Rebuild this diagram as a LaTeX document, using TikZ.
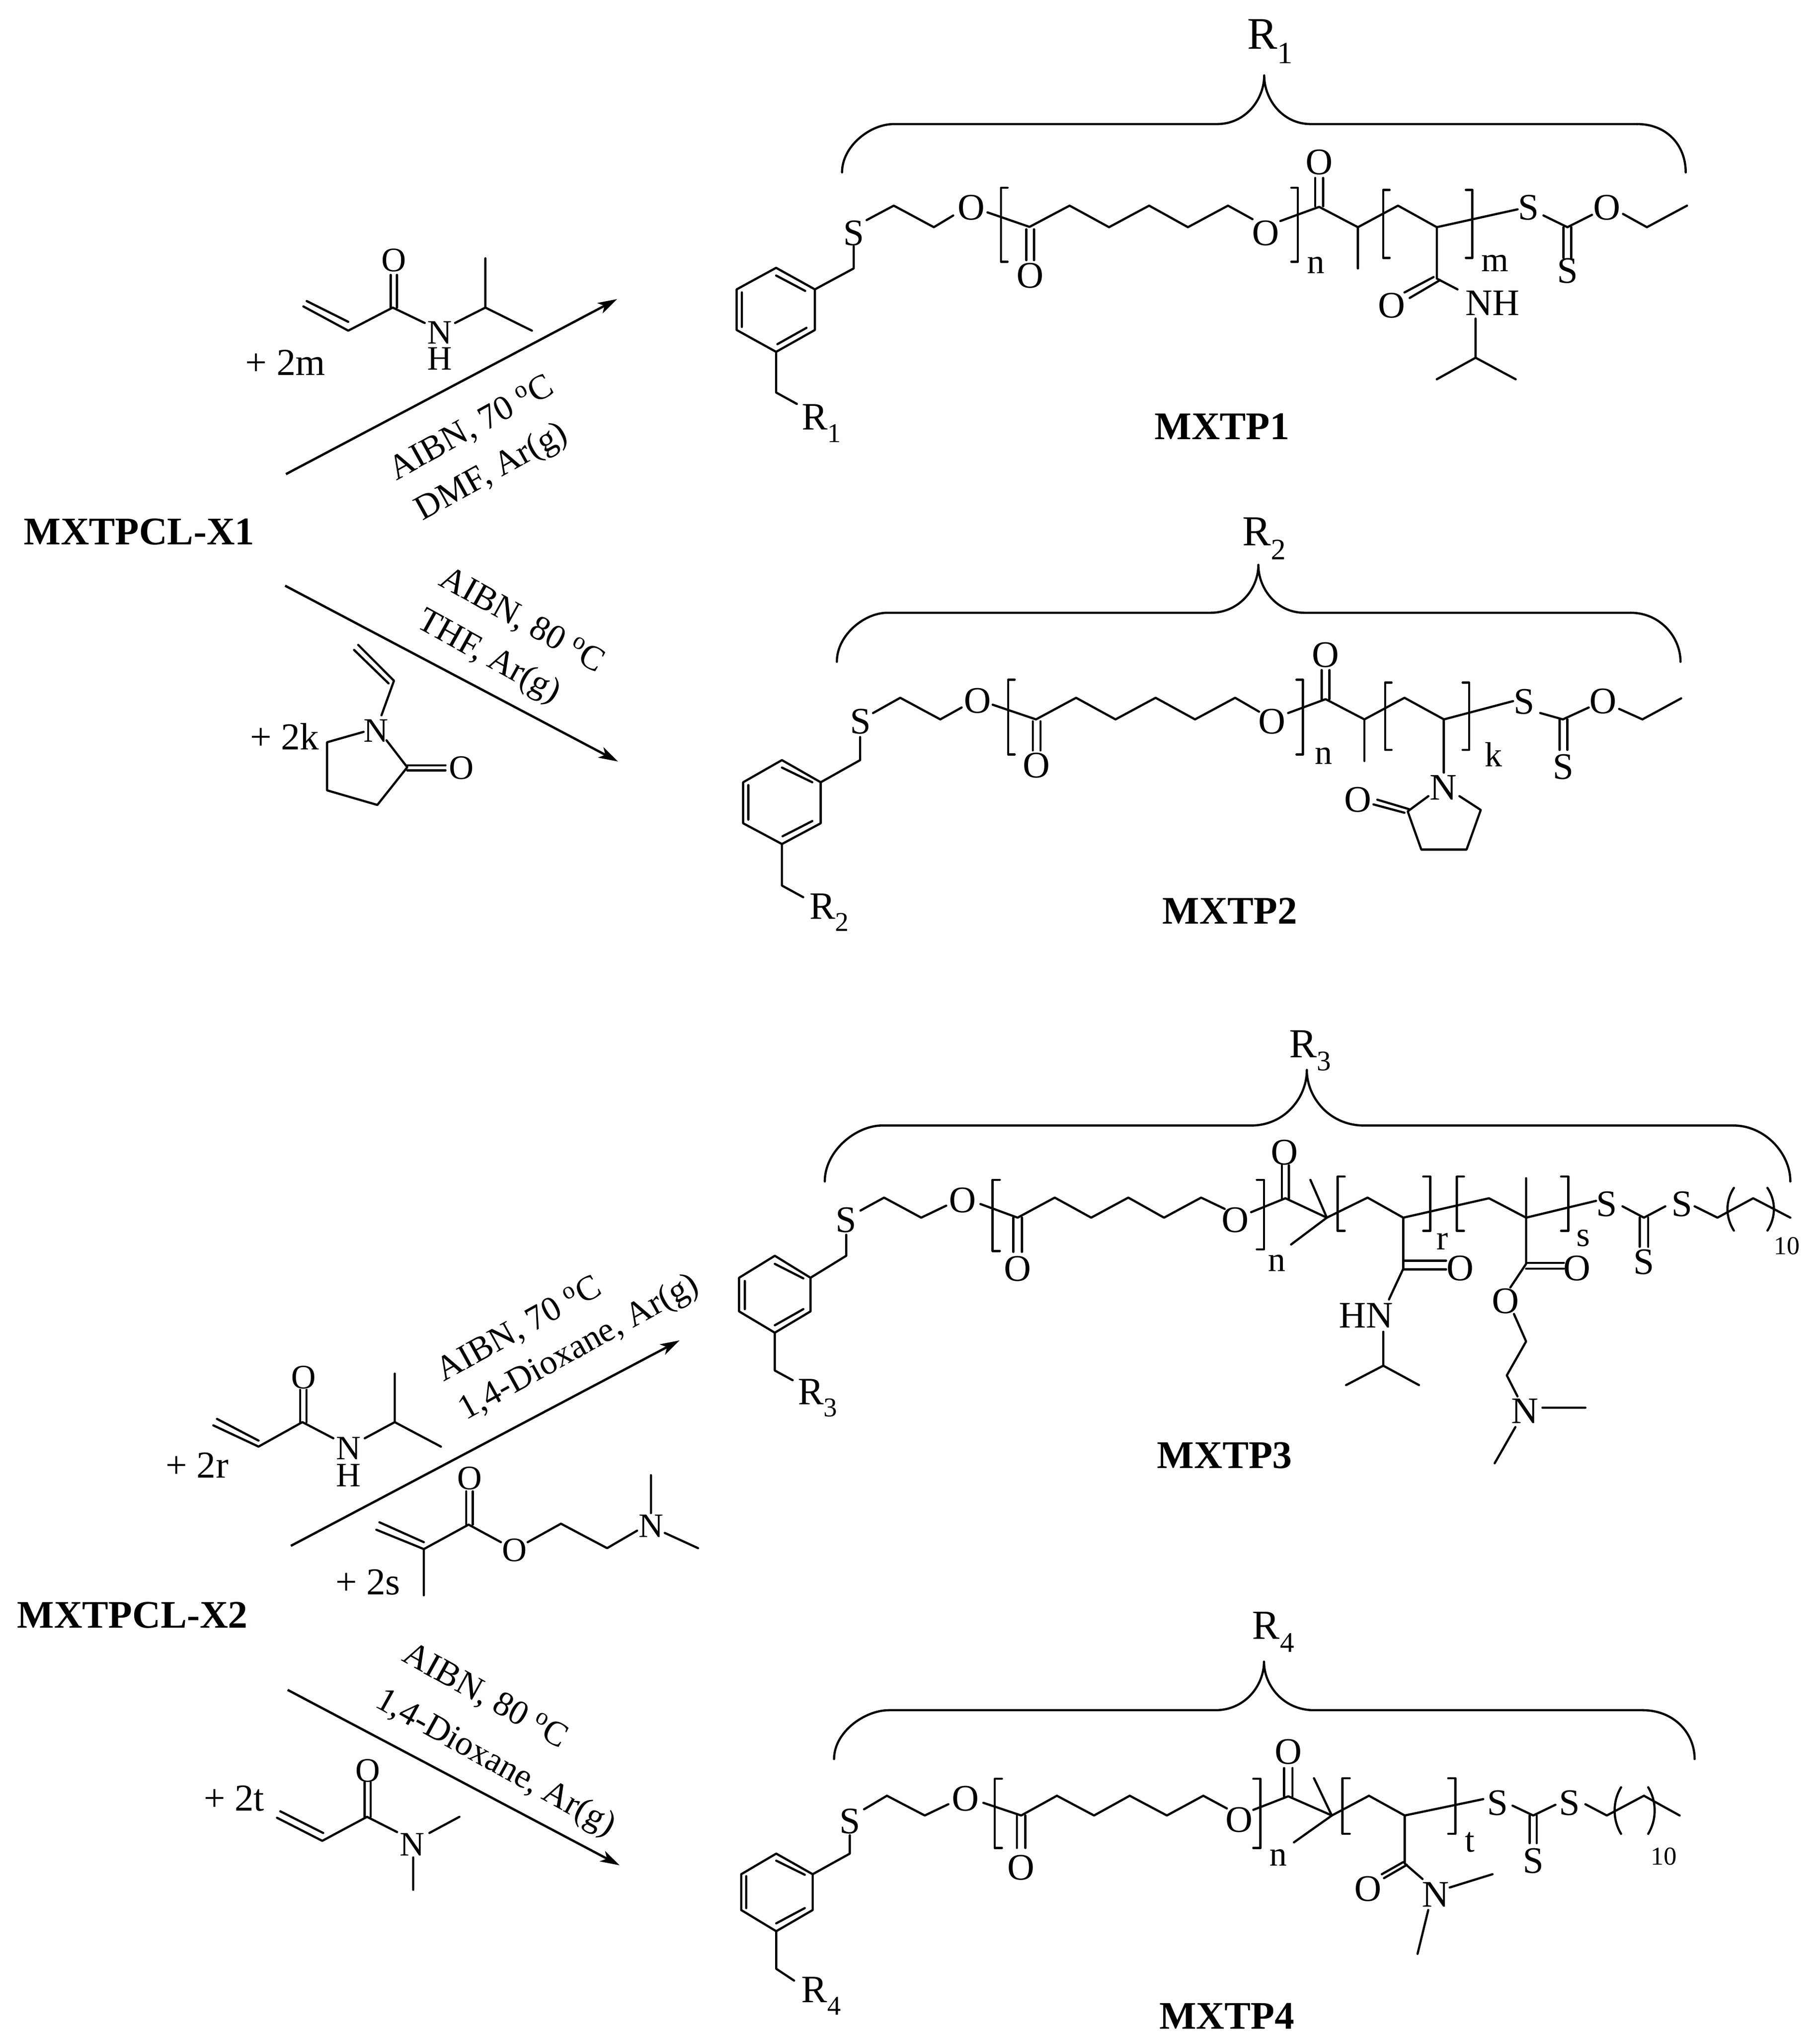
\documentclass[tikz,border=0pt]{standalone}
\usepackage{fontspec}
\setmainfont{Liberation Serif}
\usetikzlibrary{arrows.meta}
\newcommand\fsz[1]{\fontsize{#1}{#1}\selectfont}
\newcommand\sbs[1]{\raisebox{-.32em}{\fsz{21}#1}}
\tikzset{
  bond/.style={line width=1.7pt,line cap=round,line join=round,draw=black},
  rxn/.style={line width=1.8pt,draw=black,-{Stealth[length=15pt,width=9pt,inset=4pt]}},
  atomlbl/.style={inner sep=0pt,font=\fsz{29}},
  reactlbl/.style={inner sep=0pt,font=\fsz{26.5}},
  indexlbl/.style={inner sep=0pt,font=\fsz{27}},
  smallidx/.style={inner sep=0pt,font=\fsz{20}},
  boldlbl/.style={inner sep=0pt,font=\fsz{30.3}\bfseries},
  cond/.style={inner sep=0pt,font=\fsz{27}},
  plus/.style={inner sep=0pt,font=\fsz{29.5}},
  rlbl/.style={inner sep=0pt,font=\fsz{30}},
  s1/.style={shift={(541.9pt,0pt)},x=.5006pt,y=-.2384pt},
  s2/.style={shift={(541.9pt,-392.4pt)},x=.5006pt,y=-.2145pt},
  s3/.style={shift={(541.9pt,-784.8pt)},x=.553pt,y=-.2503pt},
  s4/.style={shift={(541.9pt,-1233.3pt)},x=.553pt,y=-.2186pt},
  l1/.style={shift={(0pt,-168.2pt)},x=.3218pt,y=-.2979pt},
  l2/.style={shift={(0pt,-953pt)},x=.3575pt,y=-.3575pt},
}
% #1 x, #2 y top, #3 y bottom
\newcommand\sqL[3]{\draw[bond] (#1+10,#2) -- (#1,#2) -- (#1,#3) -- (#1+10,#3);}
\newcommand\sqR[3]{\draw[bond] (#1-10,#2) -- (#1,#2) -- (#1,#3) -- (#1-10,#3);}
% brace: lx ybot x1 yh x2 tipx tipy x3 x4 rx
\newcommand\curly[9]{\draw[bond] (#1,#2) .. controls (#1,#2*0.45+#4*0.55) and (#1*0.45+#3*0.55,#4) .. (#3,#4) -- (#5,#4) .. controls (#5*0.4+#6*0.6,#4) and (#6,#4*0.5+#7*0.5) .. (#6,#7) .. controls (#6,#4*0.5+#7*0.5) and (#6*0.6+#8*0.4,#4) .. (#8,#4) -- (#9,#4);}
\begin{document}
\begin{tikzpicture}
\useasboundingbox (0pt,0pt) rectangle (1409pt,-1576pt);
\fill[white] (0pt,0pt) rectangle (1409pt,-1576pt);

% ---------- MXTP1 ----------
\begin{scope}[s1]
\curly{220}{560}{300}{403}{800}{873}{245}{945}{1450}
\draw[bond] (1450,403) .. controls (1495,403) and (1525,470) .. (1525,560);
\node[rlbl,font=\fsz{35}] (m1Rtop) at (882,135) {R\raisebox{-.32em}{\fsz{24}1}};
\draw[bond] (118,870) -- (178,940) -- (178,1072) -- (118,1143) -- (57,1072) -- (57,940) -- cycle;
\draw[bond] (118,895) -- (163,945) (165,1065) -- (120,1118) (65,950) -- (65,1062);
\draw[bond] (178,940) -- (238,872) -- (238,800);
\node[atomlbl] (m1S1) at (238,757) {S};
\draw[bond] (258,715) -- (300,668) -- (362,738) -- (392,700);
\node[atomlbl] (m1O1) at (420,675) {O};
\draw[bond] (445,690) -- (510,737) -- (572,668) -- (633,738) -- (695,668) -- (755,738) -- (817,668) -- (855,712);
\node[atomlbl] (m1O2) at (875,757) {O};
\draw[bond] (505,745) -- (505,845) (517,745) -- (517,845);
\node[atomlbl] (m1O3) at (511,895) {O};
\draw[bond] (898,718) -- (958,672) -- (1018,738) -- (1080,668) -- (1140,738) -- (1265,680);
\draw[bond] (952,670) -- (952,578) (964,670) -- (964,578);
\node[atomlbl] (m1O4) at (958,527) {O};
\draw[bond] (1018,738) -- (1018,872);
\node[atomlbl] (m1S2) at (1282,675) {S};
\draw[bond] (1305,700) -- (1342,738) -- (1380,698);
\node[atomlbl] (m1O5) at (1403,675) {O};
\draw[bond] (1428,695) -- (1465,738) -- (1527,668);
\draw[bond] (1336,738) -- (1336,838) (1348,738) -- (1348,838);
\node[atomlbl] (m1S3) at (1342,880) {S};
\draw[bond] (1140,738) -- (1140,905) -- (1172,940);
\draw[bond] (1135,900) -- (1090,950) (1145,910) -- (1098,968);
\node[atomlbl] (m1O6) at (1070,992) {O};
\node[atomlbl] (m1NH) at (1226,985) {NH};
\draw[bond] (1200,1035) -- (1200,1162) -- (1140,1232) (1200,1162) -- (1262,1232);
\sqL{466}{610}{850}
\sqR{925}{610}{850}
\sqL{1057}{617}{838}
\sqR{1195}{617}{838}
\node[indexlbl] (m1n) at (953,862) {n};
\node[indexlbl] (m1m) at (1230,855) {m};
\draw[bond] (118,1143) -- (118,1275) -- (150,1312);
\node[rlbl] (m1R) at (188,1375) {R\sbs{1}};
\node[boldlbl] (m1T) at (808,1385) {MXTP1};
\end{scope}

% ---------- MXTP2 ----------
\begin{scope}[s2]
\curly{212}{560}{290}{383}{790}{864}{210}{935}{1440}
\draw[bond] (1440,383) .. controls (1485,383) and (1517,470) .. (1517,560);
\node[rlbl,font=\fsz{33}] (m2Rtop) at (873,115) {R\raisebox{-.32em}{\fsz{23}2}};
\draw[bond] (127,915) -- (187,995) -- (187,1143) -- (127,1218) -- (67,1143) -- (67,995) -- cycle;
\draw[bond] (127,942) -- (174,995) (174,1135) -- (128,1190) (75,1005) -- (75,1130);
\draw[bond] (187,995) -- (248,915) -- (248,832);
\node[atomlbl] (m2S1) at (249,775) {S};
\draw[bond] (268,745) -- (310,690) -- (372,768) -- (405,725);
\node[atomlbl] (m2O1) at (430,700) {O};
\draw[bond] (453,715) -- (520,768) -- (582,690) -- (643,768) -- (705,690) -- (766,768) -- (828,690) -- (865,740);
\node[atomlbl] (m2O2) at (885,775) {O};
\draw[bond] (515,775) -- (515,880) (527,775) -- (527,880);
\node[atomlbl] (m2O3) at (521,935) {O};
\draw[bond] (910,745) -- (968,695) -- (1028,768) -- (1090,690) -- (1151,768) -- (1258,702);
\draw[bond] (962,695) -- (962,590) (974,695) -- (974,590);
\node[atomlbl] (m2O4) at (968,535) {O};
\draw[bond] (1028,768) -- (1028,918);
\node[atomlbl] (m2S2) at (1275,705) {S};
\draw[bond] (1300,745) -- (1335,768) -- (1375,725);
\node[atomlbl] (m2O5) at (1397,703) {O};
\draw[bond] (1422,730) -- (1458,768) -- (1518,692);
\draw[bond] (1330,768) -- (1330,878) (1342,768) -- (1342,878);
\node[atomlbl] (m2S3) at (1336,940) {S};
\draw[bond] (1151,768) -- (1151,960);
\node[atomlbl] (m2N) at (1150,1015) {N};
\draw[bond] (1127,1045) -- (1095,1100) -- (1116,1238) -- (1186,1238) -- (1208,1095) -- (1175,1045);
\draw[bond] (1097,1092) -- (1048,1058) (1090,1105) -- (1042,1075);
\node[atomlbl] (m2O6) at (1018,1058) {O};
\sqL{477}{625}{895}
\sqR{933}{625}{895}
\sqL{1060}{635}{878}
\sqR{1190}{635}{878}
\node[indexlbl] (m2n) at (965,900) {n};
\node[indexlbl] (m2k) at (1228,895) {k};
\draw[bond] (127,1218) -- (127,1368) -- (160,1410);
\node[rlbl] (m2R) at (200,1465) {R\sbs{2}};
\node[boldlbl] (m2T) at (820,1460) {MXTP2};
\end{scope}

% ---------- MXTP3 ----------
\begin{scope}[s3]
\curly{175}{520}{255}{347}{772}{850}{175}{930}{1448}
\draw[bond] (1448,347) .. controls (1490,347) and (1527,430) .. (1527,520);
\node[rlbl,font=\fsz{32}] (m3Rtop) at (855,115) {R\raisebox{-.32em}{\fsz{22}3}};
\draw[bond] (105,750) -- (155,818) -- (155,922) -- (105,988) -- (55,922) -- (55,818) -- cycle;
\draw[bond] (105,775) -- (145,820) (145,915) -- (105,965) (63,828) -- (63,915);
\draw[bond] (155,818) -- (205,750) -- (205,685);
\node[atomlbl] (m3S1) at (205,640) {S};
\draw[bond] (225,610) -- (258,570) -- (310,632) -- (345,595);
\node[atomlbl] (m3O1) at (368,578) {O};
\draw[bond] (393,590) -- (445,632) -- (497,570) -- (548,632) -- (600,570) -- (650,632) -- (702,570) -- (735,605);
\node[atomlbl] (m3O2) at (750,640) {O};
\draw[bond] (439,632) -- (439,738) (451,632) -- (451,738);
\node[atomlbl] (m3O3) at (445,790) {O};
\draw[bond] (772,615) -- (820,572) -- (878,632) -- (935,570) -- (985,632) -- (1105,572) -- (1157,632) -- (1255,580);
\draw[bond] (815,572) -- (815,470) (825,572) -- (825,470);
\node[atomlbl] (m3O4) at (819,430) {O};
\draw[bond] (855,515) -- (878,632) -- (828,715);
\node[atomlbl] (m3S2) at (1270,590) {S};
\draw[bond] (1292,597) -- (1322,632) -- (1352,597);
\node[atomlbl] (m3S4) at (1375,590) {S};
\draw[bond] (1393,597) -- (1425,632) -- (1475,572) -- (1527,632);
\draw[bond] (1316,632) -- (1316,722) (1328,632) -- (1328,722);
\node[atomlbl] (m3S3) at (1322,770) {S};
\draw[bond] (1157,510) -- (1157,775) -- (1135,848);
\draw[bond] (1157,772) -- (1210,772) (1157,790) -- (1210,790);
\node[atomlbl] (m3O5) at (1228,788) {O};
\node[atomlbl] (m3O6) at (1128,890) {O};
\draw[bond] (1140,930) -- (1157,1015) -- (1130,1120) -- (1145,1185);
\node[atomlbl] (m3N) at (1155,1230) {N};
\draw[bond] (1180,1220) -- (1240,1220) (1142,1280) -- (1113,1392);
\draw[bond] (985,632) -- (985,790) -- (965,885);
\draw[bond] (985,765) -- (1045,765) (985,792) -- (1045,792);
\node[atomlbl] (m3O7) at (1065,788) {O};
\node[atomlbl] (m3HN) at (933,935) {HN};
\draw[bond] (957,985) -- (957,1090) -- (905,1150) (957,1090) -- (1007,1150);
\sqL{410}{515}{735}
\sqR{790}{515}{730}
\sqL{893}{505}{673}
\sqR{1023}{505}{673}
\sqL{1060}{505}{673}
\sqR{1216}{505}{673}
\draw[bond] (1448,540) .. controls (1436,580) and (1436,630) .. (1448,672);
\draw[bond] (1495,540) .. controls (1507,580) and (1507,630) .. (1495,672);
\node[indexlbl] (m3n) at (808,772) {n};
\node[indexlbl] (m3r) at (1040,705) {r};
\node[indexlbl] (m3s) at (1237,695) {s};
\node[smallidx] (m3ten) at (1522,720) {10};
\draw[bond] (105,988) -- (105,1105) -- (130,1135);
\node[rlbl] (m3R) at (165,1190) {R\sbs{3}};
\node[boldlbl] (m3T) at (735,1368) {MXTP3};
\end{scope}

% ---------- MXTP4 ----------
\begin{scope}[s4]
\curly{188}{590}{265}{417}{722}{790}{245}{860}{1320}
\draw[bond] (1320,417) .. controls (1365,417) and (1393,500) .. (1393,590);
\node[rlbl,font=\fsz{32}] (m4Rtop) at (803,140) {R\raisebox{-.32em}{\fsz{22}4}};
\draw[bond] (107,925) -- (158,998) -- (158,1125) -- (107,1200) -- (58,1125) -- (58,998) -- cycle;
\draw[bond] (107,950) -- (147,1000) (147,1118) -- (107,1172) (65,1005) -- (65,1118);
\draw[bond] (158,998) -- (210,925) -- (210,860);
\node[atomlbl] (m4S1) at (210,810) {S};
\draw[bond] (230,768) -- (262,720) -- (315,790) -- (348,750);
\node[atomlbl] (m4O1) at (372,730) {O};
\draw[bond] (397,745) -- (450,790) -- (500,720) -- (552,790) -- (602,720) -- (654,790) -- (705,720) -- (738,765);
\node[atomlbl] (m4O2) at (755,805) {O};
\draw[bond] (444,790) -- (444,905) (456,790) -- (456,905);
\node[atomlbl] (m4O3) at (450,975) {O};
\draw[bond] (775,770) -- (824,722) -- (885,790) -- (937,720) -- (987,790) -- (1097,732);
\draw[bond] (818,722) -- (818,622) (830,722) -- (830,622);
\node[atomlbl] (m4O4) at (824,565) {O};
\draw[bond] (860,658) -- (885,790) -- (832,885);
\node[atomlbl] (m4S2) at (1117,745) {S};
\draw[bond] (1138,755) -- (1167,790) -- (1198,752);
\node[atomlbl] (m4S4) at (1218,745) {S};
\draw[bond] (1240,750) -- (1270,790) -- (1322,720) -- (1372,790);
\draw[bond] (1162,790) -- (1162,888) (1172,790) -- (1172,888);
\node[atomlbl] (m4S3) at (1167,950) {S};
\draw[bond] (987,790) -- (987,960) -- (1012,1015);
\draw[bond] (985,955) -- (955,998) (990,965) -- (958,1012);
\node[atomlbl] (m4O5) at (936,1050) {O};
\node[atomlbl] (m4N) at (1030,1070) {N};
\draw[bond] (1050,1045) -- (1110,998) (1020,1125) -- (1005,1280);
\sqL{413}{660}{905}
\sqR{785}{660}{905}
\sqL{900}{658}{855}
\sqR{1058}{658}{855}
\draw[bond] (1290,690) .. controls (1278,740) and (1278,805) .. (1290,855);
\draw[bond] (1328,690) .. controls (1340,740) and (1340,805) .. (1328,855);
\node[indexlbl] (m4n) at (810,940) {n};
\node[indexlbl] (m4t) at (1078,885) {t};
\node[smallidx] (m4ten) at (1350,935) {10};
\draw[bond] (107,1200) -- (107,1333) -- (132,1375);
\node[rlbl] (m4R) at (170,1430) {R\sbs{4}};
\node[boldlbl] (m4T) at (738,1500) {MXTP4};
\end{scope}

% ---------- upper left ----------
\begin{scope}[l1]
\node[boldlbl] (X1) at (335,818) {MXTPCL-X1};
\coordinate (a1s) at (688,668);
\coordinate (a1e) at (1485,213);
\coordinate (a2s) at (686,958);
\coordinate (a2e) at (1487,1415);
\draw[rxn] (a1s) -- (a1e);
\draw[rxn] (a2s) -- (a2e);
\node[cond,rotate=29] (c1a) at (1135,550) {AIBN, 70 \textsuperscript{o}C};
\node[cond,rotate=29] (c1b) at (1184,665) {DMF, Ar(g)};
\node[cond,rotate=-29] (c2a) at (1255,1050) {AIBN, 80 \textsuperscript{o}C};
\node[cond,rotate=-29] (c2b) at (1175,1145) {THF, Ar(g)};
\draw[bond] (730,232) -- (838,295) -- (945,235) -- (1022,275);
\draw[bond] (738,218) -- (838,272);
\draw[bond] (940,235) -- (940,150) (955,235) -- (955,150);
\node[reactlbl] (r1O) at (948,112) {O};
\node[reactlbl] (r1N) at (1058,300) {N};
\node[reactlbl] (r1H) at (1058,368) {H};
\draw[bond] (1095,275) -- (1168,235) -- (1280,295) (1168,235) -- (1168,107);
\node[plus] (p1) at (687,378) {+ 2m};
\draw[bond] (852,1125) -- (935,1212) (862,1112) -- (948,1205) -- (918,1295);
\node[reactlbl] (r2N) at (905,1335) {N};
\draw[bond] (875,1338) -- (787,1365) -- (787,1490) -- (908,1528) -- (980,1430) -- (930,1360);
\draw[bond] (980,1425) -- (1072,1425) (980,1438) -- (1072,1438);
\node[reactlbl] (r2O) at (1110,1432) {O};
\node[plus] (p2) at (685,1350) {+ 2k};
\end{scope}

% ---------- lower left ----------
\begin{scope}[l2]
\node[boldlbl] (X2) at (287,833) {MXTPCL-X2};
\coordinate (a3s) at (630,683);
\coordinate (a3e) at (1472,238);
\coordinate (a4s) at (623,995);
\coordinate (a4e) at (1342,1375);
\draw[rxn] (a3s) -- (a3e);
\draw[rxn] (a4s) -- (a4e);
\node[cond,rotate=29] (c3a) at (1125,215) {AIBN, 70 \textsuperscript{o}C};
\node[cond,rotate=29] (c3b) at (1255,255) {1,4-Dioxane, Ar(g)};
\node[cond,rotate=-29] (c4a) at (1050,1010) {AIBN, 80 \textsuperscript{o}C};
\node[cond,rotate=-29] (c4b) at (1072,1155) {1,4-Dioxane, Ar(g)};
\draw[bond] (462,422) -- (560,468) -- (655,415) -- (722,450);
\draw[bond] (470,408) -- (560,455);
\draw[bond] (650,415) -- (650,345) (664,415) -- (664,345);
\node[reactlbl] (r3O) at (658,318) {O};
\node[reactlbl] (r3N) at (755,472) {N};
\node[reactlbl] (r3H) at (755,530) {H};
\draw[bond] (790,450) -- (855,415) -- (955,468) (855,415) -- (855,310);
\node[plus] (p3) at (427,508) {+ 2r};
\draw[bond] (815,648) -- (918,690) -- (1015,637) -- (1085,675);
\draw[bond] (822,632) -- (918,675) (918,690) -- (918,790);
\draw[bond] (1010,637) -- (1010,565) (1024,637) -- (1024,565);
\node[reactlbl] (r4O1) at (1017,537) {O};
\node[reactlbl] (r4O2) at (1115,692) {O};
\draw[bond] (1143,675) -- (1215,635) -- (1315,688) -- (1380,650);
\node[reactlbl] (r4N) at (1410,640) {N};
\draw[bond] (1410,612) -- (1410,530) (1440,655) -- (1512,688);
\node[plus] (p4) at (797,762) {+ 2s};
\draw[bond] (600,1272) -- (698,1322) -- (795,1270) -- (860,1303);
\draw[bond] (607,1258) -- (700,1305);
\draw[bond] (790,1270) -- (790,1195) (803,1270) -- (803,1195);
\node[reactlbl] (r5O) at (797,1170) {O};
\node[reactlbl] (r5N) at (893,1330) {N};
\draw[bond] (930,1305) -- (995,1270) (895,1358) -- (895,1428);
\node[plus] (p5) at (507,1230) {+ 2t};
\end{scope}
\end{tikzpicture}
\end{document}
